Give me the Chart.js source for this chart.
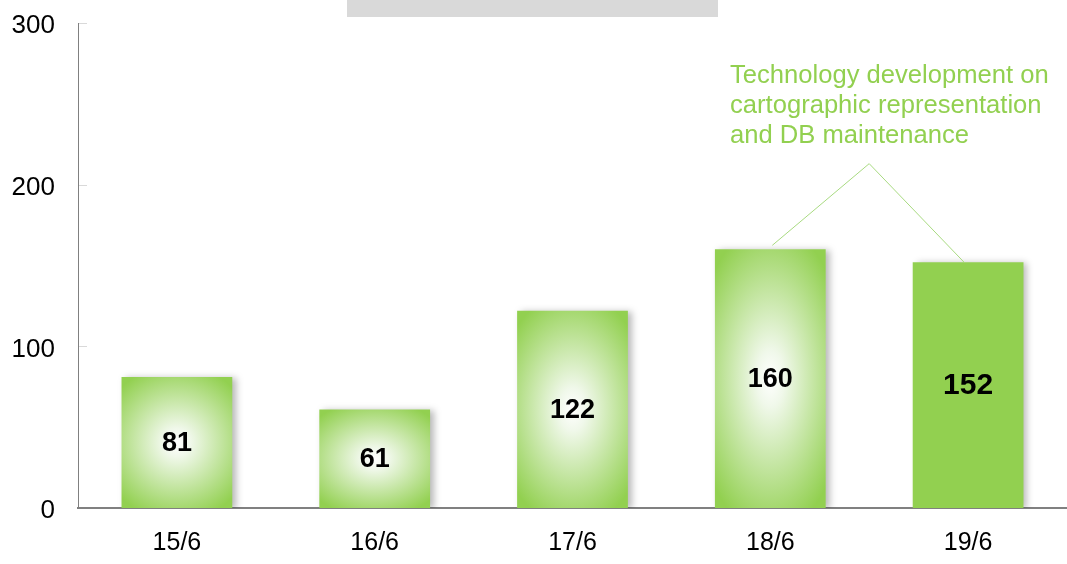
<!DOCTYPE html>
<html>
<head>
<meta charset="utf-8">
<script src="https://cdn.jsdelivr.net/npm/chart.js@4.4.1/dist/chart.umd.min.js"></script>
<style>
	html, body { margin: 0; padding: 0; background: #fff; }
	#wrap { width: 1067px; height: 564px; position: relative; }
</style>
</head>
<body>
<div id="wrap"><canvas id="mycanvas"></canvas></div>
<script>
// data
var categories = ["15/6", "16/6", "17/6", "18/6", "19/6"];
var values = [81, 61, 122, 160, 152];
var gradientBars = [true, true, true, true, false];
var yTicks = [0, 100, 200, 300];
var noteLines = ["Technology development on", "cartographic representation", "and DB maintenance"];
var noteTargets = [3, 4];   // bars the note points to
var noteApex = 213;         // y value of the line apex

var GREEN = "#92d050";
var BAR_PCT = 0.56;

function barGradient(context) {
	var chart = context.chart;
	if (context.type !== "data" || !chart.chartArea) return GREEN;
	var i = context.dataIndex;
	if (!gradientBars[i]) return GREEN;
	var xs = chart.scales.x, ys = chart.scales.y;
	var cx = xs.getPixelForValue(i);
	var w = (xs.getPixelForValue(1) - xs.getPixelForValue(0)) * BAR_PCT;
	var top = ys.getPixelForValue(values[i]);
	var bottom = ys.getPixelForValue(0);
	var h = bottom - top;
	var off = document.createElement("canvas");
	off.width = chart.width;
	off.height = chart.height;
	var o = off.getContext("2d");
	o.translate(cx, (top + bottom) / 2);
	o.scale(w * 0.7, h * 0.6);
	var g = o.createRadialGradient(0, 0, 0, 0, 0, 1);
	g.addColorStop(0, "#ffffff");
	g.addColorStop(0.18, "#f0f8ea");
	g.addColorStop(1, GREEN);
	o.fillStyle = g;
	o.fillRect(-2, -2, 4, 4);
	return chart.ctx.createPattern(off, "no-repeat");
}

var extras = {
	id: "extras",
	beforeDatasetsDraw: function(chart) {
		var ctx = chart.ctx;
		ctx.save();
		ctx.shadowColor = "rgba(0,0,0,0.28)";
		ctx.shadowBlur = 7;
		ctx.shadowOffsetX = 4;
		ctx.shadowOffsetY = 1;
	},
	afterDatasetsDraw: function(chart) {
		var ctx = chart.ctx;
		ctx.restore();
		var xs = chart.scales.x, ys = chart.scales.y;
		var area = chart.chartArea;

		// grey title placeholder
		ctx.save();
		ctx.fillStyle = "#d9d9d9";
		ctx.fillRect(347, 0, 371, 17);
		ctx.restore();

		// inward tick marks on y axis
		ctx.save();
		ctx.strokeStyle = "#d9d9d9";
		ctx.lineWidth = 1;
		yTicks.forEach(function(t) {
			if (t === 0) return;
			var y = Math.round(ys.getPixelForValue(t)) + 0.5;
			ctx.beginPath();
			ctx.moveTo(area.left + 1, y);
			ctx.lineTo(area.left + 9, y);
			ctx.stroke();
		});
		ctx.restore();

		// value labels
		ctx.save();
		ctx.fillStyle = "#000";
		ctx.textAlign = "center";
		ctx.textBaseline = "middle";
		values.forEach(function(v, i) {
			var size = gradientBars[i] ? 27 : 30;
			ctx.font = "bold " + size + "px 'Liberation Sans', Arial, sans-serif";
			var y = (ys.getPixelForValue(v) + ys.getPixelForValue(0)) / 2;
			ctx.fillText(String(v), xs.getPixelForValue(i), y + 1);
		});
		ctx.restore();

		// note with pointer lines
		ctx.save();
		ctx.fillStyle = GREEN;
		ctx.font = "25.6px 'Liberation Sans', Arial, sans-serif";
		ctx.textAlign = "left";
		ctx.textBaseline = "alphabetic";
		noteLines.forEach(function(line, k) {
			ctx.fillText(line, 730, 83 + k * 30);
		});
		var ax = (xs.getPixelForValue(noteTargets[0]) + xs.getPixelForValue(noteTargets[1])) / 2;
		var ay = ys.getPixelForValue(noteApex);
		ctx.strokeStyle = "#a8da80";
		ctx.lineWidth = 1;
		ctx.beginPath();
		ctx.moveTo(xs.getPixelForValue(noteTargets[0]) + 2, ys.getPixelForValue(values[noteTargets[0]]) - 4);
		ctx.lineTo(ax, ay);
		ctx.lineTo(xs.getPixelForValue(noteTargets[1]) - 4, ys.getPixelForValue(values[noteTargets[1]]));
		ctx.stroke();
		ctx.restore();
	}
};

var chartdata = {
	labels: categories,
	datasets: [
		{
			label: "values",
			data: values,
			backgroundColor: barGradient,
			borderWidth: 0,
			categoryPercentage: 1,
			barPercentage: BAR_PCT
		}
	]
};

var ctx = document.getElementById("mycanvas");

var BarGraph = new Chart(ctx, {
	type: "bar",
	data: chartdata,
	plugins: [extras],
	options: {
		responsive: true,
		maintainAspectRatio: false,
		animation: false,
		layout: { padding: { top: 23, right: 0, bottom: 0, left: 0 } },
		plugins: {
			legend: { display: false },
			tooltip: { enabled: false }
		},
		scales: {
			x: {
				grid: { display: false, drawTicks: false },
				border: { display: true, color: "#808080", width: 2 },
				ticks: {
					color: "#000",
					padding: 20,
					font: { family: "'Liberation Sans', Arial, sans-serif", size: 25 }
				},
				afterFit: function(scale) { scale.height = 56; }
			},
			y: {
				min: 0,
				max: 300,
				afterBuildTicks: function(scale) {
					scale.ticks = yTicks.map(function(v) { return { value: v }; });
				},
				grid: { display: false, drawTicks: false },
				border: { display: true, color: "#808080", width: 1 },
				ticks: {
					color: "#000",
					padding: 23,
					labelOffset: 3,
					font: { family: "'Liberation Sans', Arial, sans-serif", size: 26 }
				},
				afterFit: function(scale) {
					scale.width = 78;
					scale.paddingTop = 0;
					scale.paddingBottom = 0;
				}
			}
		}
	}
});
</script>
</body>
</html>
